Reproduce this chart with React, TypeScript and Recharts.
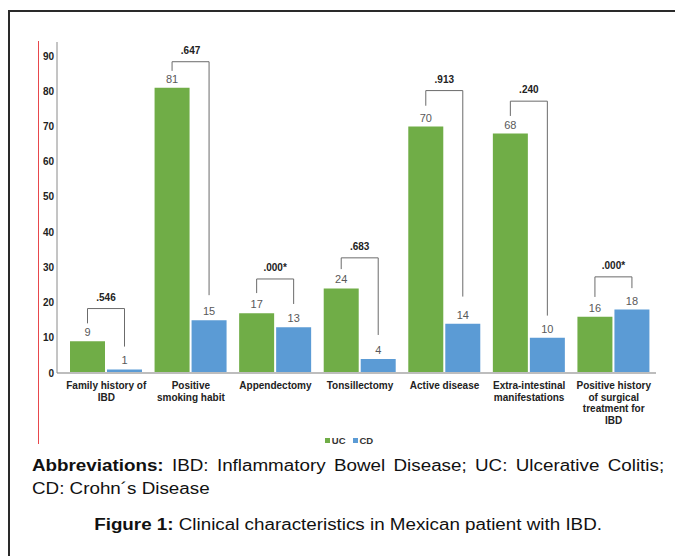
import React from "react";
import { BarChart, Bar, XAxis, YAxis, Legend, LabelList } from "recharts";

// categories (line breaks as in the figure)
const CATEGORIES = [
  "Family history of\nIBD",
  "Positive\nsmoking habit",
  "Appendectomy",
  "Tonsillectomy",
  "Active disease",
  "Extra-intestinal\nmanifestations",
  "Positive history\nof surgical\ntreatment for\nIBD",
];
const UC_VALUES = [9, 81, 17, 24, 70, 68, 16];
const CD_VALUES = [1, 15, 13, 4, 14, 10, 18];

// p-value brackets (in axis units)
const P_VALUES = [".546", ".647", ".000*", ".683", ".913", ".240", ".000*"];
const BRACKET_TOP = [18.3, 88.4, 26.7, 32.7, 80.2, 77.2, 27.3];
const BRACKET_LEFT_END = [14.1, 85.8, 22.7, 29.5, 75.9, 73, 21.6];
const BRACKET_RIGHT_END = [7.5, 22.1, 19.6, 10.8, 21.7, 16.3, 24.1];

const Y_TICKS = [0, 10, 20, 30, 40, 50, 60, 70, 80, 90];

const GREEN = "#70ad47";
const BLUE = "#5b9bd5";
const FONT = "'Liberation Sans', Arial, sans-serif";
const BAR_GAP = 2;

const data = CATEGORIES.map((name, i) => ({
  name,
  UC: UC_VALUES[i],
  CD: CD_VALUES[i],
}));

function box(props: any) {
  const vb = props.viewBox || {};
  return {
    x: props.x ?? vb.x,
    y: props.y ?? vb.y,
    width: props.width ?? vb.width,
    height: props.height ?? vb.height,
  };
}

function ValueLabel(props: any) {
  const { x, y, width } = box(props);
  if (x == null) return null;
  return (
    <text
      x={x + width / 2}
      y={y - 5}
      textAnchor="middle"
      fontSize={11}
      fontFamily={FONT}
      fill="#595959"
    >
      {props.value}
    </text>
  );
}

function Bracket(props: any) {
  const { x, y, width, height } = box(props);
  const value = Number(props.value);
  const i = props.index;
  if (x == null || !value) return null;
  const base = y + height;
  const yAt = (v: number) => base - (v * height) / value;
  const x1 = x + width / 2;
  const x2 = x + width + BAR_GAP + width / 2;
  const top = yAt(BRACKET_TOP[i]);
  return (
    <g>
      <path
        d={`M${x1},${yAt(BRACKET_LEFT_END[i])} V${top} H${x2} V${yAt(BRACKET_RIGHT_END[i])}`}
        stroke="#6b6b6b"
        strokeWidth={1}
        fill="none"
      />
      <text
        x={(x1 + x2) / 2}
        y={top - 8}
        textAnchor="middle"
        fontSize={10}
        fontWeight="bold"
        fontFamily={FONT}
        fill="#222"
      >
        {P_VALUES[i]}
      </text>
    </g>
  );
}

function CategoryTick({ x, y, payload }: any) {
  const lines = String(payload.value).split("\n");
  return (
    <text
      x={x}
      y={y}
      textAnchor="middle"
      fontSize={10}
      fontWeight="bold"
      fontFamily={FONT}
      fill="#222"
    >
      {lines.map((l, k) => (
        <tspan key={k} x={x} dy={k === 0 ? 14 : 11.5}>
          {l}
        </tspan>
      ))}
    </text>
  );
}

function LegendContent() {
  const items = [
    { label: "UC", color: GREEN },
    { label: "CD", color: BLUE },
  ];
  return (
    <div
      style={{
        display: "flex",
        justifyContent: "center",
        gap: 7,
        fontFamily: FONT,
        fontSize: 9.5,
        fontWeight: "bold",
        color: "#333",
        height: 15,
        alignItems: "center",
        paddingLeft: 20,
      }}
    >
      {items.map((it) => (
        <span key={it.label} style={{ display: "flex", alignItems: "center", gap: 2 }}>
          <span style={{ width: 5, height: 5, background: it.color, display: "inline-block" }} />
          {it.label}
        </span>
      ))}
    </div>
  );
}

export default function App() {
  return (
    <div
      style={{
        position: "fixed",
        left: 0,
        top: 0,
        width: 675,
        height: 556,
        overflow: "hidden",
        background: "#fff",
      }}
    >
      {/* outer frame */}
      <div
        style={{
          position: "absolute",
          left: 8,
          top: 10,
          width: 720,
          height: 620,
          border: "2px solid #2a2a2a",
        }}
      />
      {/* red margin line */}
      <div
        style={{
          position: "absolute",
          left: 38,
          top: 41,
          width: 1,
          height: 403,
          background: "#e8474c",
        }}
      />
      <div style={{ position: "absolute", left: 0, top: 0 }}>
        <BarChart
          width={675}
          height={450}
          data={data}
          margin={{ top: 42, right: 19, bottom: 2, left: 22 }}
          barCategoryGap={6}
          barGap={BAR_GAP}
        >
          <XAxis
            dataKey="name"
            interval={0}
            height={60}
            padding={{ left: 7, right: 0 }}
            tickLine={false}
            tickSize={0}
            stroke="#bdbdbd"
            strokeWidth={2}
            tick={<CategoryTick />}
          />
          <YAxis
            width={35}
            domain={[0, 94]}
            ticks={Y_TICKS}
            tickLine={false}
            tickSize={0}
            tickMargin={3}
            stroke="#8a8a8a"
            tick={{ fontSize: 10, fontWeight: "bold", fill: "#222", fontFamily: FONT }}
          />
          <Legend verticalAlign="bottom" height={15} content={<LegendContent />} />
          <Bar dataKey="UC" fill={GREEN} isAnimationActive={false}>
            <LabelList dataKey="UC" content={<ValueLabel />} />
            <LabelList dataKey="UC" content={<Bracket />} />
          </Bar>
          <Bar dataKey="CD" fill={BLUE} isAnimationActive={false}>
            <LabelList dataKey="CD" content={<ValueLabel />} />
          </Bar>
        </BarChart>
      </div>
      {/* caption */}
      <div
        style={{
          position: "absolute",
          left: 32,
          top: 454,
          width: 538,
          fontFamily: FONT,
          fontSize: 16,
          lineHeight: "23px",
          color: "#111",
          transform: "scaleX(1.175)",
          transformOrigin: "left top",
        }}
      >
        <div style={{ textAlign: "justify" }}>
          <b>Abbreviations:</b> IBD: Inflammatory Bowel Disease; UC: Ulcerative Colitis; CD: Crohn´s Disease
        </div>
        <div style={{ textAlign: "center", marginTop: 13 }}>
          <b>Figure 1:</b> Clinical characteristics in Mexican patient with IBD.
        </div>
      </div>
    </div>
  );
}
